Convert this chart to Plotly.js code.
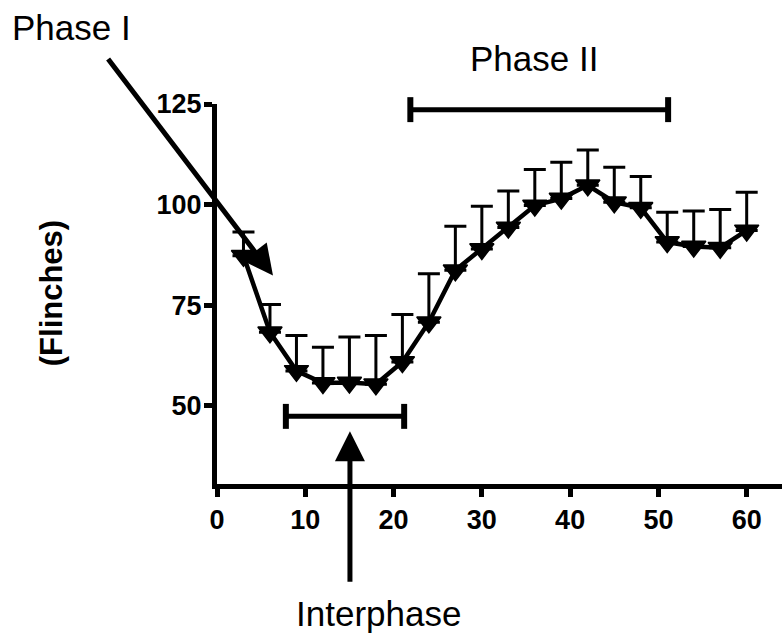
<!DOCTYPE html>
<html>
<head>
<meta charset="utf-8">
<script src="https://cdn.plot.ly/plotly-3.0.1.min.js"></script>
<style>
  html, body { margin: 0; padding: 0; background: #ffffff; }
  #chart { width: 782px; height: 635px; }
</style>
</head>
<body>
<div id="chart"></div>
<script>
// Session time (min) of each sampling point
const timeMin = [3, 6, 9, 12, 15, 18, 21, 24, 27, 30, 33, 36, 39, 42, 45, 48, 51, 54, 57, 60];
// Mean number of flinches per bin
const flinchMean = [87.3, 68.3, 58.7, 55.7, 55.8, 55.4, 60.9, 70.8, 83.7, 89.0,
                    94.3, 99.8, 101.5, 104.8, 100.6, 99.2, 90.7, 89.6, 89.3, 93.6];
// Standard error of the mean (drawn upward only)
const flinchSem = [5.9, 6.9, 8.8, 8.9, 11.3, 12.1, 11.8, 12.0, 10.9, 10.6,
                   9.1, 8.9, 9.0, 8.8, 8.7, 7.8, 7.4, 8.8, 9.5, 9.5];
const zeros = flinchSem.map(() => 0);

// Axis tick labels
const xTicks = [0, 10, 20, 30, 40, 50, 60];
const yTicks = [50, 75, 100, 125];

// Phase windows (min)
const interphaseSpan = [7.8, 21.2];
const phaseTwoSpan = [21.9, 51.1];

const xRange = [0, 64];
const yRange = [30.6, 125];
const xPaper = v => (v - xRange[0]) / (xRange[1] - xRange[0]);
const yPaper = v => (v - yRange[0]) / (yRange[1] - yRange[0]);

const ink = '#000000';
const boldFont = { family: 'Arial, "Liberation Sans", sans-serif', size: 27, color: ink, weight: 'bold' };
const plainFont = { family: 'Arial, "Liberation Sans", sans-serif', size: 35, color: ink };

const trace = {
  type: 'scatter',
  mode: 'lines+markers',
  x: timeMin,
  y: flinchMean,
  line: { color: ink, width: 4.5 },
  marker: { symbol: 'triangle-down', size: 21, color: ink, line: { color: ink, width: 1.5 } },
  error_y: {
    type: 'data', symmetric: false, array: flinchSem, arrayminus: zeros,
    color: ink, thickness: 3, width: 11
  },
  cliponaxis: false,
  hoverinfo: 'x+y'
};

// Bracket helper: horizontal bar with end caps, x in data units, y in paper units
function bracket(span, yMid, capHalf) {
  const base = { type: 'line', xref: 'x', yref: 'paper', layer: 'above' };
  return [
    Object.assign({}, base, { x0: span[0], x1: span[1], y0: yPaper(yMid), y1: yPaper(yMid),
      line: { color: ink, width: 5 } }),
    Object.assign({}, base, { x0: span[0], x1: span[0], y0: yPaper(yMid - capHalf), y1: yPaper(yMid + capHalf),
      line: { color: ink, width: 6 } }),
    Object.assign({}, base, { x0: span[1], x1: span[1], y0: yPaper(yMid - capHalf), y1: yPaper(yMid + capHalf),
      line: { color: ink, width: 6 } })
  ];
}

const shapes = [].concat(
  bracket(phaseTwoSpan, 123.6, 3.1),
  bracket(interphaseSpan, 47.4, 3.1)
);

const annotations = [
  { text: 'Phase I', xref: 'paper', yref: 'paper', x: xPaper(-16.5), y: yPaper(144.0),
    xanchor: 'center', yanchor: 'middle', showarrow: false, font: plainFont },
  { text: 'Phase II', xref: 'paper', yref: 'paper', x: xPaper(35.9), y: yPaper(136.3),
    xanchor: 'center', yanchor: 'middle', showarrow: false, font: plainFont },
  { text: 'Interphase', xref: 'paper', yref: 'paper', x: xPaper(18.3), y: yPaper(-1.6),
    xanchor: 'center', yanchor: 'middle', showarrow: false, font: plainFont },
  { text: '(Flinches)', xref: 'paper', yref: 'paper', x: xPaper(-18.8), y: yPaper(78.0),
    xanchor: 'center', yanchor: 'middle', textangle: -90, showarrow: false,
    font: Object.assign({}, boldFont, { size: 31 }) },
  // Arrow pointing at the early decline
  { text: '', xref: 'x', yref: 'y', x: 6.34, y: 82.4, ax: -166, ay: -218,
    showarrow: true, arrowhead: 2, arrowsize: 1.2, arrowwidth: 5, arrowcolor: ink, standoff: 0 },
  // Arrow pointing up at the interphase window
  { text: '', xref: 'x', yref: 'y', x: 15.06, y: 43.7, ax: 0, ay: 152,
    showarrow: true, arrowhead: 2, arrowsize: 1.2, arrowwidth: 5, arrowcolor: ink, standoff: 0 }
];

const layout = {
  width: 782,
  height: 635,
  margin: { l: 217, r: 0, t: 103.5, b: 151.3, pad: 0 },
  paper_bgcolor: '#ffffff',
  plot_bgcolor: '#ffffff',
  showlegend: false,
  xaxis: {
    range: xRange, tickvals: xTicks, ticktext: xTicks.map(String),
    showline: true, linecolor: ink, linewidth: 5,
    ticks: 'outside', ticklen: 8, tickwidth: 5, tickcolor: ink,
    showgrid: false, zeroline: false, tickfont: boldFont, fixedrange: true
  },
  yaxis: {
    range: yRange, tickvals: yTicks, ticktext: yTicks.map(String),
    showline: true, linecolor: ink, linewidth: 5,
    ticks: 'outside', ticklen: 8, tickwidth: 5, tickcolor: ink, ticklabelstandoff: -3,
    showgrid: false, zeroline: false, tickfont: boldFont, fixedrange: true
  },
  shapes: shapes,
  annotations: annotations
};

Plotly.newPlot('chart', [trace], layout, { displayModeBar: false, staticPlot: true });
</script>
</body>
</html>
